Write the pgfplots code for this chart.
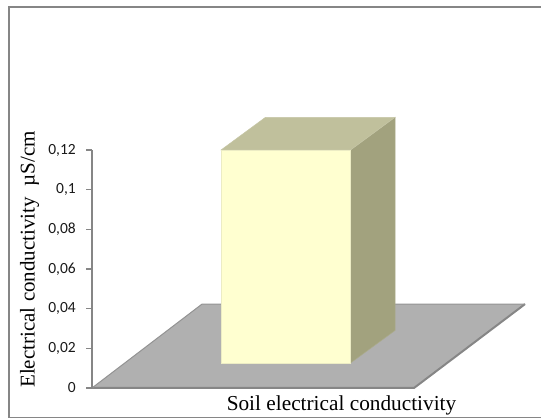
\documentclass[border=0pt]{standalone}
\usepackage{pgfplots}
\pgfplotsset{compat=1.18}
\usepackage{fontspec}
\setmainfont{Liberation Serif}
\newfontfamily\tickfont{Carlito}
\definecolor{floorc}{HTML}{B0B0B0}
\definecolor{axisc}{HTML}{868686}
\definecolor{frontc}{HTML}{FFFFD0}
\definecolor{topc}{HTML}{C0C09C}
\definecolor{sidec}{HTML}{A2A27E}
\begin{document}
\begin{tikzpicture}[x=1pt,y=1pt]
\path[use as bounding box] (0,0) rectangle (541,419);
\draw[color=axisc,line width=2.4pt] (9,1.5) -- (9,412);
\draw[color=axisc,line width=1.3pt] (8,412) -- (541,412);
\draw[color=axisc,line width=1.3pt] (8,1.5) -- (541,1.5);
\begin{axis}[
  at={(92pt,31pt)},anchor=origin,
  scale only axis,width=322pt,height=238pt,
  xmin=0,xmax=322,ymin=0,ymax=0.12,
  clip=false,
  axis lines=none,
  tick style={draw=none},
]
% floor
\addplot[fill=floorc,draw=none] coordinates {(0,0) (322,0) (433,0.0423) (110,0.0423)} --cycle;
\addplot[draw=axisc,line width=2pt] coordinates {(0,0) (322,0) (433,0.0423)};
\addplot[draw=axisc!70!floorc,line width=1pt] coordinates {(0,0) (110,0.0423) (433,0.0423)};
% bar
\addplot[fill=sidec,draw=sidec!90!white,line width=0.5pt] coordinates {(258.5,0.0126) (303,0.029) (303,0.1365) (258.5,0.12)} --cycle;
\addplot[fill=topc,draw=topc!90!white,line width=0.5pt] coordinates {(129,0.12) (258.5,0.12) (303,0.1365) (173.5,0.1365)} --cycle;
\addplot[fill=frontc,draw=frontc!85!gray,line width=0.5pt] coordinates {(129,0.0126) (258.5,0.0126) (258.5,0.12) (129,0.12)} --cycle;
% y axis
\addplot[draw=axisc,line width=2pt] coordinates {(0,0) (0,0.12)};
\addplot[draw=axisc,line width=1.2pt,
  mark=-,mark size=3pt,mark options={xshift=-3pt,line width=1.2pt}] coordinates {(0,0) (0,0.02) (0,0.04) (0,0.06) (0,0.08) (0,0.1) (0,0.12)};
\foreach \v/\t in {0/0,0.02/{0,02},0.04/{0,04},0.06/{0,06},0.08/{0,08},0.1/{0,1},0.12/{0,12}}{
  \edef\temp{\noexpand\node[anchor=east,inner sep=0pt,font=\noexpand\tickfont\noexpand\fontsize{15.5}{16}\noexpand\selectfont,text=black!90] at (axis cs:-16,\v) {\unexpanded\expandafter{\t}};}
  \temp
}
\end{axis}
\node[rotate=90,font=\fontsize{21}{24}\selectfont,inner sep=0pt] at (29.5,159.5) {Electrical conductivity\ \ µS/cm};
\node[font=\fontsize{21.3}{24}\selectfont,inner sep=0pt] at (341.5,13.5) {Soil electrical conductivity};
\end{tikzpicture}
\end{document}
